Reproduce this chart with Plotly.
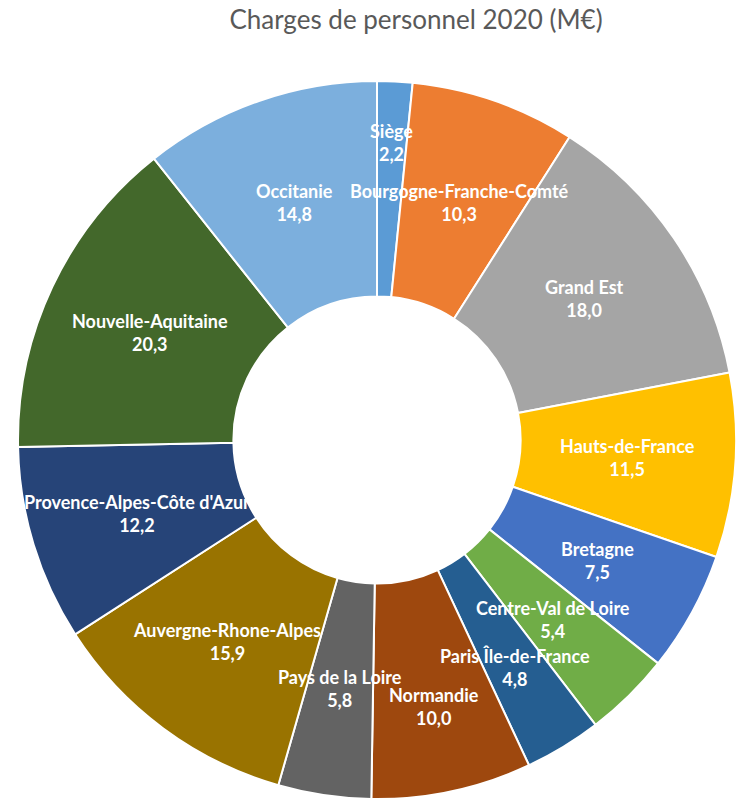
import math
import plotly.graph_objects as go

regions = ["Siège", "Bourgogne-Franche-Comté", "Grand Est", "Hauts-de-France",
           "Bretagne", "Centre-Val de Loire", "Paris Île-de-France", "Normandie",
           "Pays de la Loire", "Auvergne-Rhone-Alpes", "Provence-Alpes-Côte d'Azur",
           "Nouvelle-Aquitaine", "Occitanie"]
values = [2.2, 10.3, 18.0, 11.5, 7.5, 5.4, 4.8, 10.0, 5.8, 15.9, 12.2, 20.3, 14.8]
colors = ["#5B9BD5", "#ED7D31", "#A5A5A5", "#FFC000", "#4472C4", "#70AD47",
          "#255E91", "#9E480E", "#636363", "#997300", "#264478", "#43682B", "#7CAFDD"]

W, H = 736, 802
cx, cy, R = 377, 440, 359
HOLE = 0.40
# label radius as fraction of outer radius (mid-ring), with a few labels pushed outward
label_r_default = (1 + HOLE) / 2
label_r_override = {"Siège": 0.83, "Normandie": 0.76, "Paris Île-de-France": 0.74}

fig = go.Figure(go.Pie(
    labels=regions,
    values=values,
    textinfo="none",
    sort=False,
    direction="clockwise",
    rotation=0,
    hole=HOLE,
    marker=dict(colors=colors, line=dict(color="white", width=2)),
    domain=dict(x=[(cx - R) / W, (cx + R) / W], y=[(H - cy - R) / H, (H - cy + R) / H]),
    showlegend=False,
    hoverinfo="label+value",
))

total = sum(values)
cum = 0.0
annotations = []
for name, v in zip(regions, values):
    mid = (cum + v / 2) / total * 2 * math.pi
    cum += v
    r = label_r_override.get(name, label_r_default) * R
    px = cx + r * math.sin(mid)
    py = cy - r * math.cos(mid)
    annotations.append(dict(
        x=px / W, y=(H - py) / H, xref="paper", yref="paper",
        text=f"{name}<br>{str(v).replace('.', ',')}",
        showarrow=False, xanchor="center", yanchor="middle",
        font=dict(family="Lato", size=18, color="white", weight="bold"),
    ))

fig.update_layout(
    width=W, height=H,
    margin=dict(l=0, r=0, t=0, b=0),
    paper_bgcolor="white",
    annotations=annotations,
    title=dict(text="Charges de personnel 2020 (M€)", x=416 / W, xanchor="center",
               y=1 - 20 / H, yanchor="middle",
               font=dict(family="Lato", size=26, color="#595959")),
)

fig.write_html("out.html")
